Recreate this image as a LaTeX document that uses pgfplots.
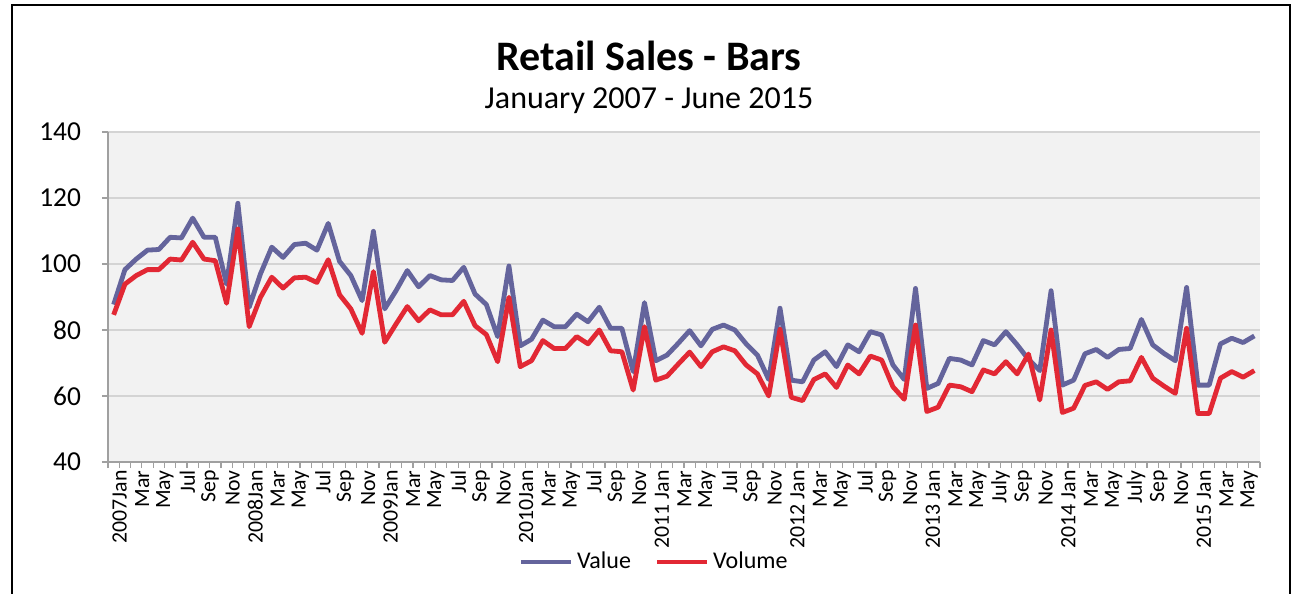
\documentclass[border=0pt]{standalone}
\usepackage{fontspec}
\setmainfont{Carlito}
\usepackage{pgfplots}
\pgfplotsset{compat=1.18}
\definecolor{valcol}{RGB}{100,100,156}
\definecolor{volcol}{RGB}{226,40,52}
\definecolor{plotbg}{RGB}{242,242,242}
\definecolor{gridcol}{RGB}{212,212,212}
\definecolor{axcol}{RGB}{160,160,160}
\begin{document}
\begin{tikzpicture}
\path[use as bounding box] (0,0) rectangle (647.5bp,297bp);
\draw[black, line width=0.8bp] (6bp,0bp) -- (6bp,294.5bp) -- (645bp,294.5bp) -- (645bp,0bp);
\node[font=\fontsize{21bp}{25bp}\selectfont\bfseries] at (324.5bp,269bp) {Retail Sales - Bars};
\node[font=\fontsize{16bp}{19bp}\selectfont] at (324.5bp,246.5bp) {January 2007 - June 2015};
\begin{axis}[
  at={(54bp,66bp)}, anchor=south west,
  width=576bp, height=165bp, scale only axis,
  xmin=-0.5, xmax=101.5, ymin=40, ymax=140,
  axis background/.style={fill=plotbg},
  axis x line*=bottom, axis y line*=left,
  axis line style={draw=axcol, line width=0.8bp, -},
  ytick={40,60,...,140},
  ymajorgrids, grid style={draw=gridcol, line width=0.9bp},
  xtick={0,2,...,100},
  xticklabels={2007Jan,Mar,May,Jul,Sep,Nov,2008Jan,Mar,May,Jul,Sep,Nov,2009Jan,Mar,May,Jul,Sep,Nov,2010Jan,Mar,May,Jul,Sep,Nov,2011 Jan,Mar,May,Jul,Sep,Nov,2012 Jan,Mar,May,Jul,Sep,Nov,2013 Jan,Mar,May,July,Sep,Nov,2014 Jan,Mar,May,July,Sep,Nov,2015 Jan,Mar,May},
  minor xtick={-0.5,0.5,...,101.5},
  tick align=outside,
  major tick length=3bp, minor tick length=3bp,
  x tick style={draw=none},
  minor x tick style={draw=axcol, line width=0.6bp},
  y tick style={draw=axcol, line width=0.6bp},
  /pgf/number format/assume math mode=true,
  yticklabel style={font=\fontsize{13.7bp}{16bp}\selectfont, anchor=east, xshift=-7bp},
  xticklabel style={font=\fontsize{10.9bp}{13bp}\selectfont, rotate=90, anchor=east, inner sep=1bp, yshift=-3bp},
  legend style={at={(0.4748,-0.303)}, anchor=center, draw=none, fill=none,
    legend columns=2, font=\fontsize{12bp}{14bp}\selectfont,
    /tikz/every even column/.append style={column sep=10bp},
    nodes={inner sep=1.8bp}},
  legend image code/.code={\draw[#1, line width=2.4bp] (0bp,0bp) -- (25bp,0bp);},
]
\addplot[valcol, line width=2.4bp, line join=round] coordinates {
(0,87.7)(1,98.3)(2,101.5)(3,104.2)(4,104.4)(5,108.1)(6,107.9)(7,113.9)(8,108.1)(9,108.1)
(10,93.9)(11,118.4)(12,86.9)(13,97.0)(14,105.1)(15,102.0)(16,105.9)(17,106.3)(18,104.2)(19,112.3)
(20,100.8)(21,96.5)(22,88.9)(23,109.9)(24,86.4)(25,91.9)(26,98.0)(27,93.1)(28,96.5)(29,95.2)
(30,95.0)(31,99.0)(32,90.9)(33,87.7)(34,78.0)(35,99.4)(36,75.2)(37,77.2)(38,83.0)(39,81.0)
(40,81.0)(41,84.8)(42,82.5)(43,86.9)(44,80.5)(45,80.5)(46,67.4)(47,88.3)(48,70.7)(49,72.4)
(50,76.0)(51,79.8)(52,75.2)(53,80.2)(54,81.5)(55,80.0)(56,75.8)(57,72.4)(58,65.0)(59,86.6)
(60,64.8)(61,64.3)(62,70.9)(63,73.4)(64,68.9)(65,75.5)(66,73.4)(67,79.5)(68,78.5)(69,69.4)
(70,65.0)(71,92.6)(72,62.3)(73,63.8)(74,71.4)(75,70.9)(76,69.4)(77,76.8)(78,75.5)(79,79.5)
(80,75.5)(81,71.1)(82,67.7)(83,91.9)(84,63.3)(85,64.8)(86,72.8)(87,74.1)(88,71.7)(89,74.1)
(90,74.4)(91,83.2)(92,75.5)(93,72.9)(94,70.7)(95,92.9)(96,63.3)(97,63.3)(98,75.8)(99,77.5)
(100,76.2)(101,78.2)
};
\addlegendentry{Value}
\addplot[volcol, line width=2.4bp, line join=round] coordinates {
(0,84.6)(1,93.9)(2,96.5)(3,98.3)(4,98.3)(5,101.5)(6,101.2)(7,106.6)(8,101.5)(9,101.0)
(10,88.1)(11,110.6)(12,81.0)(13,89.9)(14,96.0)(15,92.7)(16,95.8)(17,96.0)(18,94.4)(19,101.3)
(20,90.7)(21,86.4)(22,79.0)(23,97.7)(24,76.3)(25,81.8)(26,87.1)(27,82.8)(28,86.1)(29,84.6)
(30,84.6)(31,88.7)(32,81.3)(33,78.6)(34,70.4)(35,89.9)(36,68.9)(37,70.7)(38,76.8)(39,74.4)
(40,74.4)(41,78.0)(42,75.8)(43,80.0)(44,73.7)(45,73.4)(46,61.8)(47,81.0)(48,64.8)(49,66.0)
(50,69.7)(51,73.3)(52,68.9)(53,73.4)(54,74.9)(55,73.7)(56,69.4)(57,66.7)(58,60.0)(59,80.2)
(60,59.6)(61,58.6)(62,65.0)(63,66.7)(64,62.6)(65,69.4)(66,66.7)(67,72.1)(68,70.9)(69,62.8)
(70,59.0)(71,81.5)(72,55.3)(73,56.6)(74,63.3)(75,62.8)(76,61.3)(77,67.9)(78,66.7)(79,70.4)
(80,66.7)(81,72.7)(82,58.8)(83,80.0)(84,55.0)(85,56.3)(86,63.2)(87,64.3)(88,62.0)(89,64.3)
(90,64.6)(91,71.7)(92,65.4)(93,63.0)(94,60.8)(95,80.5)(96,54.7)(97,54.7)(98,65.4)(99,67.4)
(100,65.7)(101,67.7)
};
\addlegendentry{Volume}
\end{axis}
\end{tikzpicture}
\end{document}
